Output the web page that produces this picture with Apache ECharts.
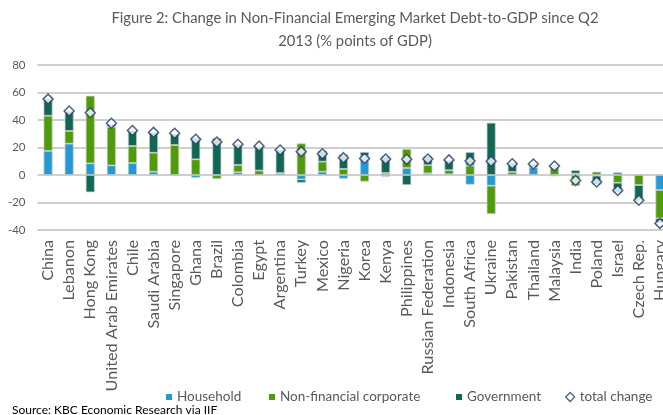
<!DOCTYPE html>
<html><head><meta charset="utf-8">
<script src="https://cdn.jsdelivr.net/npm/echarts@6/dist/echarts.min.js"></script>
<style>html,body{margin:0;padding:0;background:#fff}#c{width:663px;height:415px}</style>
</head><body><div id="c"></div>
<script>
var categories = ["China","Lebanon","Hong Kong","United Arab Emirates","Chile","Saudi Arabia","Singapore","Ghana","Brazil","Colombia","Egypt","Argentina","Turkey","Mexico","Nigeria","Korea","Kenya","Philippines","Russian Federation","Indonesia","South Africa","Ukraine","Pakistan","Thailand","Malaysia","India","Poland","Israel","Czech Rep.","Hungary"];
var household = [17.5,22.8,8.5,7,8.7,2.4,0,-2,0,2,0,1.5,-3.2,2.4,-2.7,13.8,-1.2,5.1,1.2,0.5,-7,-7.8,0,5.5,-1,1,-0.5,2,0.7,-10.9];
var corporate = [25.6,9.2,49.2,28,12.4,13.8,21.8,11.4,-2.9,5.3,3.2,0,23,7.3,4.4,-4.8,1.5,13.8,6,3,6.8,-20.6,2.2,0,6,-8,2.4,-5.6,-7.3,-20.6];
var government = [12.7,14.8,-12.6,2,11.6,14.8,8.5,16,26.7,15.5,18,17,-2.4,8,10.6,2.9,12,-7.3,6.5,7.5,9.9,38,7,2.5,1.5,2.5,-6.5,-7.5,-12,-3.6];
var totalChange = [55.2,46.5,45.3,37.6,32.3,31,30.3,26,24,22.3,21,18.2,17,15.5,12.6,12,11.6,11.4,11.6,11,10.2,10,8.2,8,6.5,-4,-5.1,-11.3,-18.3,-35.2];
var yTicks = {min:-40, max:80, interval:20};
var titleText = "Figure 2: Change in Non-Financial Emerging Market Debt-to-GDP since Q2\n2013 (% points of GDP)";
var sourceText = "Source: KBC Economic Research via IIF";

var FONT = "Lato";
var chart = echarts.init(document.getElementById('c'), null, {renderer:'canvas'});
var barBorder = {borderColor:'rgba(200,200,200,0.9)', borderWidth:0.8};
function legendAt(name, left, color){
  return {data:[name], left:left, top:390, padding:0, itemWidth:6, itemHeight:6, itemGap:6, icon:'rect',
    itemStyle:{color:color, borderWidth:0},
    textStyle:{fontFamily:FONT, fontSize:13.5, color:'#595959'}, selectedMode:false};
}
chart.setOption({
  animation:false,
  backgroundColor:'#fff',
  grid:{left:37.5, width:633, top:65, bottom:185, outerBoundsMode:'none', containLabel:false},
  graphic:[
    {type:'text', x:355, y:7, style:{text:titleText, textAlign:'center', textVerticalAlign:'top', fontFamily:FONT, fontSize:14.8, lineHeight:23, fill:'#595959'}},
    {type:'text', x:12, y:404, style:{text:sourceText, fontFamily:FONT, fontSize:12, fill:'#000'}}
  ],
  legend:[
    legendAt('Household',166,'#239bd2'),
    legendAt('Non-financial corporate',269,'#4f9b0a'),
    legendAt('Government',456,'#106854'),
    Object.assign(legendAt('total change',565,'#ffffff'),{icon:'diamond', itemWidth:9, itemHeight:9, itemGap:5,
      itemStyle:{color:'#ffffff', borderColor:'#1f3b6e', borderWidth:1.3}})
  ],
  xAxis:{type:'category', data:categories,
    axisLine:{show:false}, axisTick:{show:false},
    axisLabel:{rotate:90, interval:0, margin:10, fontFamily:FONT, fontSize:16.2, color:'#595959'}},
  yAxis:{type:'value', min:yTicks.min, max:yTicks.max, interval:yTicks.interval,
    axisLine:{show:false}, axisTick:{show:false},
    axisLabel:{margin:12, fontFamily:FONT, fontSize:11.5, color:'#595959'},
    splitLine:{lineStyle:{color:'#bfbfbf', width:1.5}}},
  series:[
    {name:'Household', type:'bar', stack:'s', barWidth:9, data:household, itemStyle:Object.assign({color:'#239bd2'},barBorder)},
    {name:'Non-financial corporate', type:'bar', stack:'s', barWidth:9, data:corporate, itemStyle:Object.assign({color:'#4f9b0a'},barBorder)},
    {name:'Government', type:'bar', stack:'s', barWidth:9, data:government, itemStyle:Object.assign({color:'#106854'},barBorder)},
    {name:'total change', type:'scatter', data:totalChange, symbol:'diamond', symbolSize:10, z:5,
      itemStyle:{color:'#ffffff', borderColor:'#1f3b6e', borderWidth:1.5}}
  ]
});
</script></body></html>
